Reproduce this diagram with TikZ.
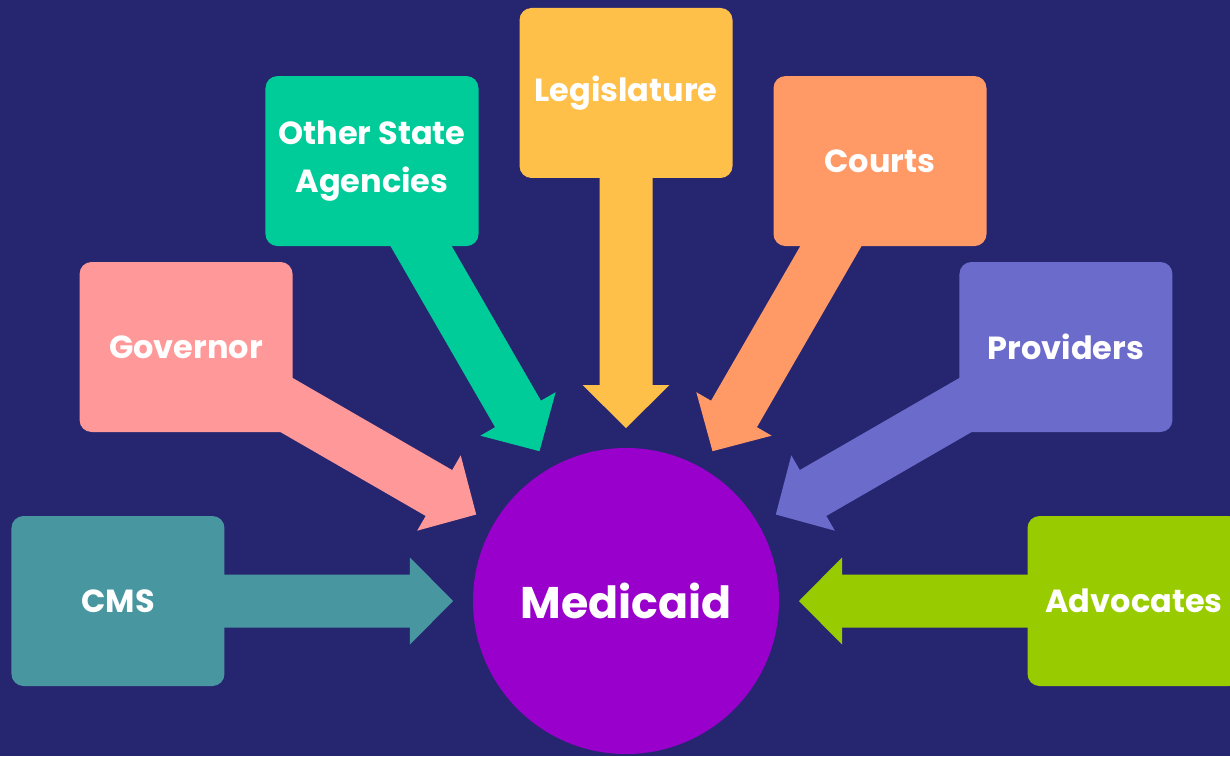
\documentclass[tikz,border=0pt]{standalone}
\usepackage{fontspec}
\setmainfont{Poppins}
\usepackage{xcolor}
\usetikzlibrary{calc,backgrounds}
\definecolor{medinavy}{RGB}{38, 38, 112}
\definecolor{medpurple}{RGB}{153, 0, 204}
\definecolor{cmsteal}{RGB}{72, 151, 160}
\definecolor{govpink}{RGB}{255, 153, 153}
\definecolor{agencygreen}{RGB}{0, 204, 153}
\definecolor{legisyellow}{RGB}{255, 192, 74}
\definecolor{courtorange}{RGB}{255, 153, 102}
\definecolor{provviolet}{RGB}{107, 107, 204}
\definecolor{advlime}{RGB}{153, 204, 0}

\tikzset{
  stakeholder/.style={rounded corners=0.12cm, minimum width=2.13cm, minimum height=1.70cm,
    align=center, text=white, font=\bfseries\fontsize{9.1}{11.5}\selectfont, inner sep=0pt},
  hub/.style={circle, fill=medpurple, minimum size=3.06cm, text=white,
    font=\bfseries\fontsize{12.6}{15}\selectfont}
}

% fat arrow from a stakeholder box into the Medicaid circle
\newcommand{\blockarrow}[2]{%
  \coordinate (h) at ($(medicaid)!2.16cm!(#1)$);
  \coordinate (t) at ($(medicaid)!1.73cm!(#1)$);
  \fill[#2] ($(#1)!0.265cm!-90:(h)$) -- ($(h)!0.265cm!90:(#1)$) -- ($(h)!0.435cm!90:(#1)$)
    -- (t) -- ($(h)!0.435cm!-90:(#1)$) -- ($(h)!0.265cm!-90:(#1)$)
    -- ($(#1)!0.265cm!90:(h)$) -- cycle;
}

\begin{document}
\begin{tikzpicture}
\useasboundingbox (-6.26,-1.55) rectangle (6.04,6.01);

\node[hub] (medicaid) at (0,0) {Medicaid};

\node[stakeholder, fill=cmsteal] (cms) at (180:5.08) {CMS};
\node[stakeholder, fill=govpink] (governor) at (150:5.08) {Governor};
\node[stakeholder, fill=agencygreen] (agencies) at (120:5.08) {Other State\\[2pt]Agencies};
\node[stakeholder, fill=legisyellow] (legislature) at (90:5.08) {Legislature};
\node[stakeholder, fill=courtorange] (courts) at (60:5.08) {Courts};
\node[stakeholder, fill=provviolet] (providers) at (30:5.08) {Providers};
\node[stakeholder, fill=advlime] (advocates) at (0:5.08) {Advocates};

\begin{scope}[on background layer]
  \fill[medinavy] (-6.26,-1.55) rectangle (6.04,6.01);
  \blockarrow{cms}{cmsteal}
  \blockarrow{governor}{govpink}
  \blockarrow{agencies}{agencygreen}
  \blockarrow{legislature}{legisyellow}
  \blockarrow{courts}{courtorange}
  \blockarrow{providers}{provviolet}
  \blockarrow{advocates}{advlime}
\end{scope}
\end{tikzpicture}
\end{document}
